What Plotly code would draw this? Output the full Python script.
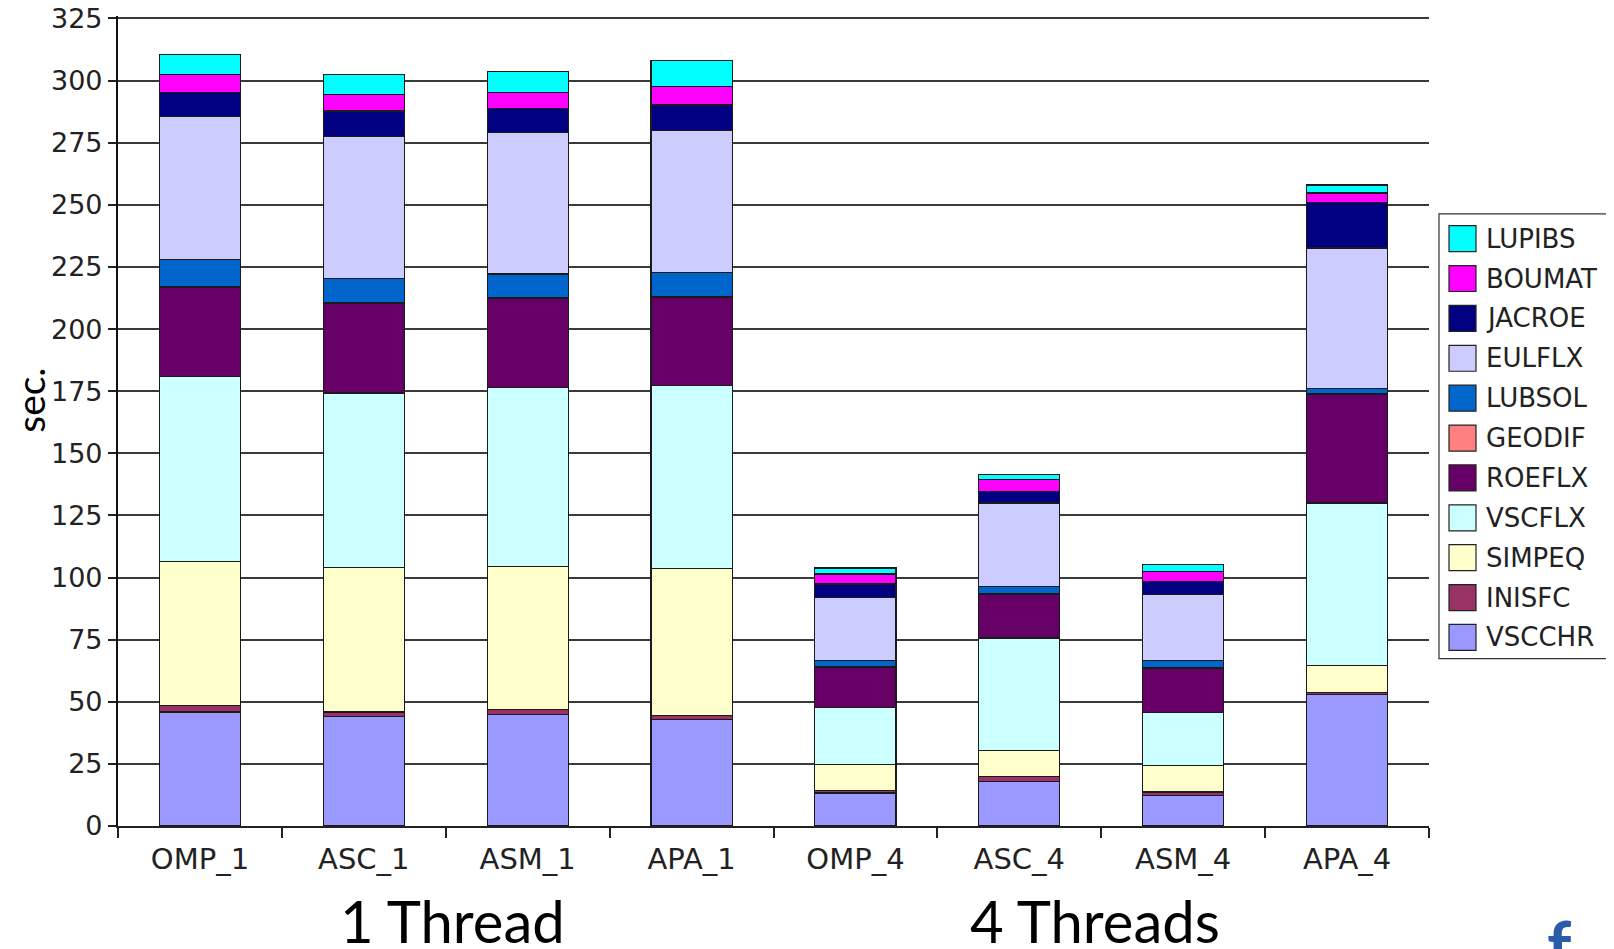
import plotly.graph_objects as go

categories = ["OMP_1", "ASC_1", "ASM_1", "APA_1", "OMP_4", "ASC_4", "ASM_4", "APA_4"]

VSCCHR = [45.9, 44.2, 44.9, 42.8, 13.3, 18.0, 12.4, 52.8]
INISFC = [2.6, 1.7, 2.0, 1.8, 1.1, 2.0, 1.3, 0.8]
SIMPEQ = [58.0, 58.0, 57.6, 58.9, 10.5, 10.5, 10.6, 11.0]
VSCFLX = [74.4, 70.4, 72.0, 73.7, 22.9, 45.2, 21.5, 65.4]
ROEFLX = [35.8, 36.2, 35.7, 35.5, 16.2, 17.4, 17.8, 43.6]
GEODIF = [0.3, 0.3, 0.3, 0.3, 0.3, 0.3, 0.3, 0.3]
LUBSOL = [10.9, 9.4, 9.7, 9.9, 2.3, 3.1, 2.7, 2.2]
EULFLX = [57.5, 57.3, 57.0, 57.0, 25.4, 33.5, 26.5, 56.5]
JACROE = [9.9, 10.3, 9.7, 10.3, 5.4, 4.7, 5.4, 18.2]
BOUMAT = [7.3, 6.7, 6.3, 7.4, 4.0, 4.7, 4.0, 4.0]
LUPIBS = [8.0, 8.1, 8.4, 10.4, 2.4, 2.0, 2.7, 3.2]

series_names = ["VSCCHR", "INISFC", "SIMPEQ", "VSCFLX", "ROEFLX", "GEODIF",
                "LUBSOL", "EULFLX", "JACROE", "BOUMAT", "LUPIBS"]
series_values = [VSCCHR, INISFC, SIMPEQ, VSCFLX, ROEFLX, GEODIF,
                 LUBSOL, EULFLX, JACROE, BOUMAT, LUPIBS]
series_colors = ["#9999FF", "#993366", "#FFFFCC", "#CCFFFF", "#660066", "#FF8080",
                 "#0066CC", "#CCCCFF", "#000080", "#FF00FF", "#00FFFF"]

y_ticks = [0, 25, 50, 75, 100, 125, 150, 175, 200, 225, 250, 275, 300, 325]

group_labels = ["1 Thread", "4 Threads"]
group_pos = [1.54, 5.46]

W, H = 1614, 949
OFF = 8  # page body margin in the browser
Y_MAX = 326.0
B = 826.5                      # screen y of value 0
PX_PER_UNIT = (826.5 - 18.5) / 325.0
T = B - PX_PER_UNIT * Y_MAX    # screen y of plot top
L, R = 118, 1429


def px(x):
    return (x - L) / (R - L)


def py(y):
    return (B - y) / (B - T)


fig = go.Figure()
for name, vals, col in zip(series_names, series_values, series_colors):
    fig.add_trace(go.Bar(
        x=categories, y=vals, name=name,
        marker=dict(color=col, line=dict(color="#1a1a1a", width=1.2)),
        showlegend=False,
    ))

shapes = []
annotations = []

# legend box with large swatches as in the reference
leg_top, leg_bot = 214, 659
shapes.append(dict(type="rect", xref="paper", yref="paper",
                   x0=px(1439), x1=px(1660), y0=py(leg_bot), y1=py(leg_top),
                   line=dict(color="#333333", width=1.2), fillcolor="white", layer="above"))
for i, (name, col) in enumerate(zip(series_names[::-1], series_colors[::-1])):
    cy = 238.8 + 39.9 * i
    shapes.append(dict(type="rect", xref="paper", yref="paper",
                       x0=px(1449), x1=px(1476), y0=py(cy + 13), y1=py(cy - 13),
                       line=dict(color="#222222", width=1.2), fillcolor=col, layer="above"))
    annotations.append(dict(text=name, xref="paper", yref="paper", x=px(1484), y=py(cy),
                            xanchor="left", yanchor="middle", showarrow=False,
                            font=dict(family="DejaVu Sans", size=26, color="#222222")))

for lab, pos in zip(group_labels, group_pos):
    annotations.append(dict(text=lab, xref="x", yref="paper", x=pos, y=py(921),
                            xanchor="center", yanchor="middle", showarrow=False,
                            font=dict(family="Lato", size=58, color="#000000")))

annotations.append(dict(text="sec.", xref="paper", yref="paper", x=px(30), y=py(400),
                        textangle=-90, xanchor="center", yanchor="middle", showarrow=False,
                        font=dict(family="Lato", size=39, color="#000000")))

annotations.append(dict(text="<b>f</b>", xref="paper", yref="paper", x=px(1545), y=py(903),
                        xanchor="left", yanchor="top", showarrow=False,
                        font=dict(family="Lato", size=68, color="#2a5ca8")))

fig.update_layout(
    width=W, height=H,
    barmode="stack", bargap=0.505,
    plot_bgcolor="white", paper_bgcolor="white",
    margin=dict(l=L - OFF, r=W - R + OFF, t=T - OFF, b=H - B + OFF, pad=0, autoexpand=False),
    showlegend=False,
    shapes=shapes, annotations=annotations,
    xaxis=dict(
        type="category", showline=True, linecolor="#222222", linewidth=1.5,
        ticks="outside", tickson="boundaries", ticklen=10, tickcolor="#222222", tickwidth=1.5,
        tickfont=dict(family="DejaVu Sans", size=29, color="#222222"),
        ticklabelstandoff=6,
        showgrid=False, range=[-0.5, 7.5], automargin=False,
    ),
    yaxis=dict(
        range=[0, Y_MAX], tickmode="array", tickvals=y_ticks,
        ticktext=[str(v) for v in y_ticks],
        showline=True, linecolor="#111111", linewidth=2.2,
        ticks="outside", ticklen=8, tickcolor="#222222", tickwidth=1.5,
        tickfont=dict(family="DejaVu Sans", size=27, color="#222222"),
        ticklabeloverflow="allow",
        showgrid=True, gridcolor="#3a3a3a", gridwidth=1.6,
        zeroline=False, automargin=False,
    ),
)

fig.write_html("out.html")
